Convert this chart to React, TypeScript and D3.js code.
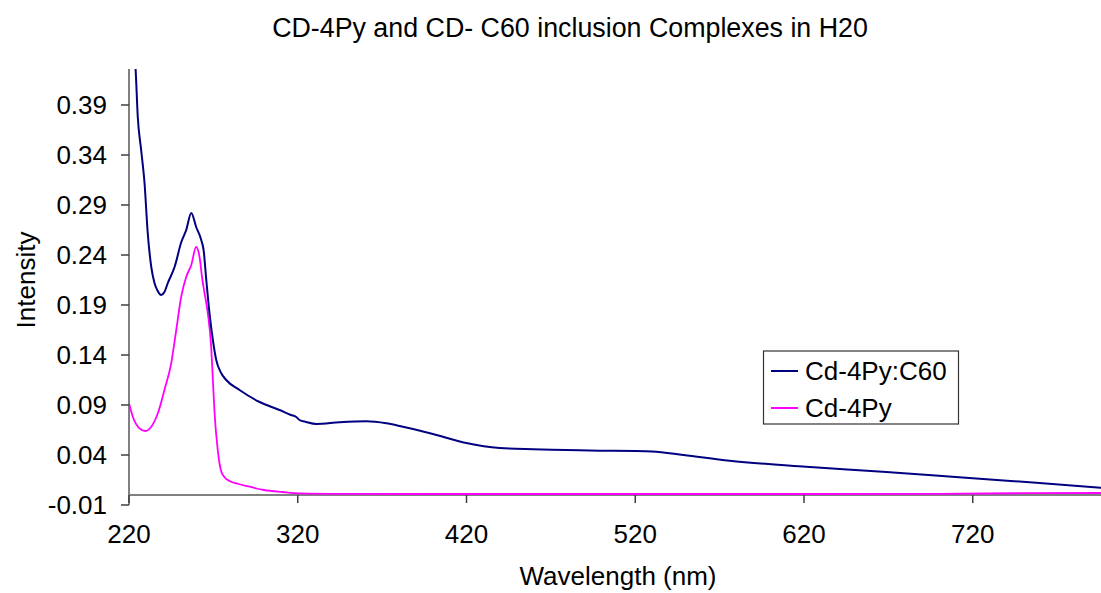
import React from "react";
import * as d3 from "d3";

const c60Wl = [220, 222, 223.9, 225.2, 227.2, 229.2, 231.1, 233.2, 235.1, 237, 239.1, 241, 243, 247, 251, 253.9, 256.9, 259.8, 262.8, 264.2, 265.8, 267.7, 269.7, 271.7, 274.6, 277.6, 285.5, 297.4, 309.2, 316, 319.1, 321, 325, 331, 344.8, 360.6, 372.5, 380.3, 400.1, 419.9, 439.6, 459.4, 479.2, 498.9, 520.2, 530, 548.6, 575.9, 621.3, 666.6, 720, 757.6, 796];
const c60Val = [0.49, 0.455, 0.426, 0.378, 0.345, 0.312, 0.262, 0.228, 0.212, 0.204, 0.2, 0.203, 0.212, 0.228, 0.253, 0.265, 0.282, 0.268, 0.255, 0.245, 0.215, 0.182, 0.155, 0.135, 0.122, 0.115, 0.105, 0.093, 0.085, 0.08, 0.078, 0.075, 0.073, 0.071, 0.0727, 0.0737, 0.0717, 0.069, 0.061, 0.052, 0.047, 0.0457, 0.045, 0.0443, 0.044, 0.0435, 0.04, 0.0343, 0.0283, 0.0233, 0.0167, 0.0123, 0.0073];

const pyWl = [220, 222.3, 226.2, 229.6, 233.2, 237.1, 241, 245, 248, 250.9, 253.9, 256.9, 259.8, 261.8, 263.5, 264.8, 266.7, 268.7, 269.7, 270.7, 272.6, 273.6, 274.6, 276.5, 279.6, 285, 291.4, 300, 311, 321, 350, 400, 500, 600, 700, 750, 796];
const pyVal = [0.0917, 0.078, 0.0667, 0.064, 0.0683, 0.0817, 0.105, 0.1317, 0.165, 0.198, 0.218, 0.23, 0.248, 0.238, 0.215, 0.2017, 0.1817, 0.148, 0.115, 0.082, 0.045, 0.032, 0.024, 0.018, 0.014, 0.011, 0.0083, 0.005, 0.003, 0.0017, 0.0012, 0.001, 0.001, 0.001, 0.0012, 0.0018, 0.002];

const xTicks = [220, 320, 420, 520, 620, 720];
const yTicks = [-0.01, 0.04, 0.09, 0.14, 0.19, 0.24, 0.29, 0.34, 0.39];
const seriesNames = ["Cd-4Py:C60", "Cd-4Py"];
const seriesColors = ["#000080", "#FF00FF"];

const W = 1101;
const H = 593;
const FONT = "'Liberation Sans', Arial, sans-serif";

export default function App() {
  const left = 129;
  const right = 1101;
  const top = 69;
  const bottom = 505;
  const x = d3.scaleLinear().domain([220, 796]).range([left, right]);
  const y = d3.scaleLinear().domain([-0.01, 0.426]).range([bottom, top]);
  const line = d3
    .line<[number, number]>()
    .x((d) => x(d[0]))
    .y((d) => y(d[1]))
    .curve(d3.curveMonotoneX);
  const c60Data: [number, number][] = c60Wl.map((w, i) => [w, c60Val[i]]);
  const pyData: [number, number][] = pyWl.map((w, i) => [w, pyVal[i]]);
  const y0 = y(0);

  return (
    <svg
      width={W}
      height={H}
      style={{ position: "absolute", left: 0, top: 0, background: "#fff" }}
      fontFamily={FONT}
    >
      <rect x={0} y={0} width={W} height={H} fill="#fff" />
      <defs>
        <clipPath id="plot">
          <rect x={left} y={top} width={right - left} height={bottom - top} />
        </clipPath>
      </defs>
      <text x={570} y={37} textAnchor="middle" fontSize={26.8} fill="#000">
        CD-4Py and CD- C60 inclusion Complexes in H20
      </text>
      <line x1={left} x2={left} y1={top} y2={bottom} stroke="#808080" strokeWidth={2} />
      <line x1={left} x2={right} y1={y0} y2={y0} stroke="#808080" strokeWidth={2} />
      {yTicks.map((t) => (
        <g key={t}>
          <line x1={left - 8} x2={left} y1={y(t)} y2={y(t)} stroke="#404040" strokeWidth={1.5} />
          <text x={107} y={y(t)} dy="0.35em" textAnchor="end" fontSize={26} fill="#000">
            {t.toFixed(2)}
          </text>
        </g>
      ))}
      {xTicks.map((t) => (
        <g key={t}>
          <line x1={x(t)} x2={x(t)} y1={y0} y2={y0 + 8} stroke="#404040" strokeWidth={1.5} />
          <text x={x(t)} y={543} textAnchor="middle" fontSize={26} fill="#000">
            {t}
          </text>
        </g>
      ))}
      <text x={618} y={585} textAnchor="middle" fontSize={26} fill="#000">
        Wavelength (nm)
      </text>
      <text
        transform={`translate(35,280) rotate(-90)`}
        textAnchor="middle"
        fontSize={26}
        fill="#000"
      >
        Intensity
      </text>
      <g clipPath="url(#plot)">
        <path d={line(pyData) || ""} fill="none" stroke={seriesColors[1]} strokeWidth={1.8} />
        <path d={line(c60Data) || ""} fill="none" stroke={seriesColors[0]} strokeWidth={2} />
      </g>
      <rect x={763.5} y={351} width={195} height={73} fill="#fff" stroke="#333" strokeWidth={1.2} />
      {seriesNames.map((n, i) => (
        <g key={n}>
          <line x1={771} x2={798} y1={371 + i * 37} y2={371 + i * 37} stroke={seriesColors[i]} strokeWidth={2} />
          <text x={805} y={371 + i * 37} dy="0.35em" fontSize={26} fill="#000">
            {n}
          </text>
        </g>
      ))}
    </svg>
  );
}
